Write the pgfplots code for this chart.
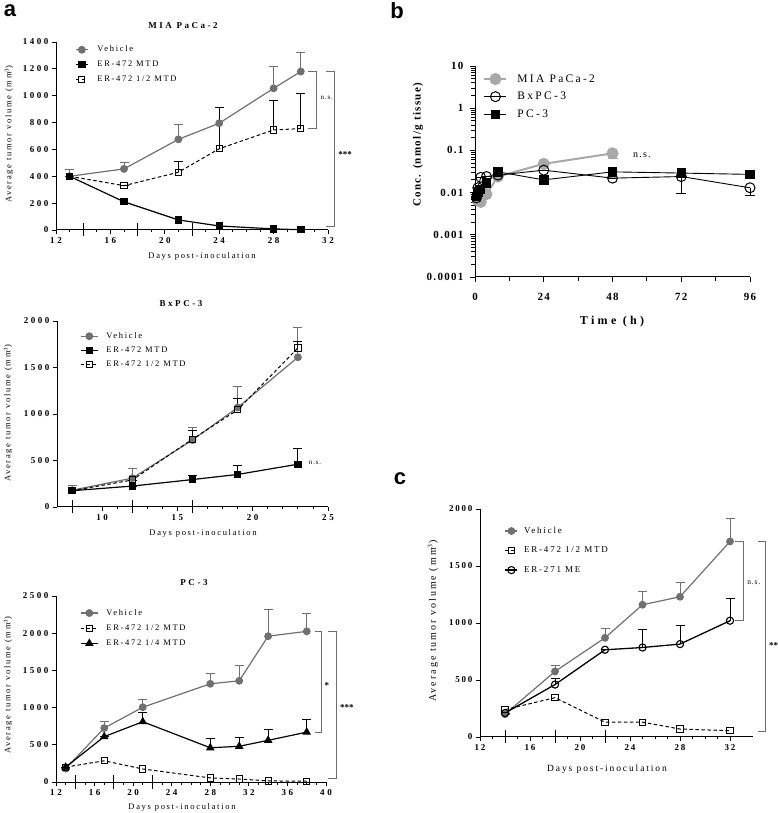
\documentclass[border=0pt]{standalone}
\usepackage{fontspec}
\setmainfont{Liberation Serif}
\newfontfamily\spf[LetterSpace=12]{Liberation Serif}
\newfontfamily\spm[LetterSpace=20]{Liberation Serif}
\newfontfamily\spw[LetterSpace=28]{Liberation Serif}
\newfontfamily\lettf{Liberation Sans}
\usepackage{pgfplots}
\pgfplotsset{compat=1.18}
\definecolor{vgray}{RGB}{112,112,112}
\definecolor{lgray}{RGB}{168,168,168}
\definecolor{bgray}{RGB}{110,110,110}
\tikzset{brk/.style={bgray, line width=0.8pt}}

\pgfplotsset{
 myaxis/.style={scale only axis, anchor=south west, clip=false,
   axis x line*=bottom, axis y line*=left, axis line style={-, line width=1pt},
   tick align=outside, major tick length=4pt, minor tick length=2.5pt,
   every tick/.style={black, line width=0.8pt},
   tick label style={font=\fontsize{9}{10}\selectfont\bfseries\spw},
   /pgf/number format/assume math mode=true, /pgf/number format/1000 sep={},
   legend style={draw=none, fill=none, font=\fontsize{8.5}{9}\selectfont\spm, inner sep=0pt, cells={anchor=west}},
   legend cell align=left,
   legend image code/.code={\draw[mark repeat=2,mark phase=2,##1] plot coordinates {(0pt,0pt) (6pt,0pt) (12pt,0pt)}; \path (19pt,0pt);},
   extra x tick style={major tick length=13pt, tick align=center},
   extra x tick labels={},
 },
 ebp/.style={error bars/.cd, y dir=plus, y explicit, error bar style={solid, line width=1pt, #1}, error mark options={rotate=90, solid, mark size=4.5pt, line width=1pt, #1}},
 veh/.style={vgray, line width=1.2pt, mark=*, mark size=3.3pt, mark options={fill=vgray, draw=vgray}},
 mtd/.style={black, line width=1.2pt, mark=square*, mark size=3.1pt, mark options={fill=black}},
 half/.style={black, line width=1pt, dash pattern=on 3.5pt off 2.5pt, mark=square, mark size=3.1pt, mark options={solid, fill=white, line width=0.9pt}},
 quart/.style={black, line width=1.2pt, mark=triangle*, mark size=3.8pt, mark options={fill=black}},
 me/.style={black, line width=1.3pt, mark=o, mark size=3.6pt, mark options={fill=white, line width=1.1pt}},
}

\begin{document}
\begin{tikzpicture}[x=1pt,y=1pt]
\path[use as bounding box] (0,0) rectangle (778,813);

% ---------- a: MIA PaCa-2 ----------
\begin{axis}[myaxis, at={(56pt,583pt)}, width=272pt, height=188pt,
  xmin=12, xmax=32, ymin=0, ymax=1400,
  xtick={12,16,...,32}, minor x tick num=3, ytick={0,200,...,1400},
  extra x ticks={14,18,22},
  legend style={at={(0.07,0.99)}, anchor=north west, row sep=3.5pt}]
\addplot[veh, ebp=vgray] table[x=x, y=y, y error plus=e, row sep=\\] {
x y e \\ 13 400 48 \\ 17 455 45 \\ 21 675 110 \\ 24 795 120 \\ 28 1055 165 \\ 30 1180 145 \\};
\addplot[mtd] table[x=x, y=y, row sep=\\] {
x y \\ 13 400 \\ 17 210 \\ 21 75 \\ 24 30 \\ 28 8 \\ 30 2 \\};
\addplot[half, ebp=black] table[x=x, y=y, y error plus=e, row sep=\\] {
x y e \\ 13 400 0 \\ 17 330 0 \\ 21 430 80 \\ 24 605 310 \\ 28 745 220 \\ 30 755 265 \\};
\legend{Vehicle, ER-472 MTD, ER-472 1/2 MTD}
\draw[brk] (axis cs:30.55,1180) -- (axis cs:31.17,1180) -- (axis cs:31.17,760) -- (axis cs:30.55,760);
\node[font=\fontsize{7}{8}\selectfont\spf, anchor=west] at (axis cs:31.2,980) {n.s.};
\draw[brk] (axis cs:31.85,1180) -- (axis cs:32.45,1180) -- (axis cs:32.45,27) -- (axis cs:31.85,27);
\node[font=\fontsize{9}{9}\selectfont\bfseries, anchor=west] at (axis cs:32.5,565) {***};
\end{axis}

% ---------- a: BxPC-3 ----------
\begin{axis}[myaxis, at={(57pt,306pt)}, width=271pt, height=186pt,
  xmin=7, xmax=25, ymin=0, ymax=2000,
  xtick={10,15,20,25}, minor x tick num=4, ytick={0,500,...,2000},
  extra x ticks={8,12,16},
  legend style={at={(0.085,0.95)}, anchor=north west, row sep=3pt},
  legend image code/.code={\draw[mark repeat=2,mark phase=2,#1] plot coordinates {(0pt,0pt) (8.5pt,0pt) (17pt,0pt)}; \path (23pt,0pt);}]
\addplot[veh, ebp=vgray] table[x=x, y=y, y error plus=e, row sep=\\] {
x y e \\ 8 180 50 \\ 12 310 100 \\ 16 720 135 \\ 19 1070 230 \\ 23 1610 320 \\};
\addplot[mtd, ebp=black] table[x=x, y=y, y error plus=e, row sep=\\] {
x y e \\ 8 175 0 \\ 12 225 0 \\ 16 295 45 \\ 19 350 95 \\ 23 460 165 \\};
\addplot[half, ebp=black] table[x=x, y=y, y error plus=e, row sep=\\] {
x y e \\ 8 175 0 \\ 12 290 0 \\ 16 730 90 \\ 19 1045 125 \\ 23 1710 70 \\};
\legend{Vehicle, ER-472 MTD, ER-472 1/2 MTD}
\node[font=\fontsize{7}{8}\selectfont\spf, anchor=west] at (axis cs:23.5,470) {n.s.};
\end{axis}

% ---------- a: PC-3 ----------
\begin{axis}[myaxis, at={(56pt,31pt)}, width=270pt, height=186pt,
  xmin=12, xmax=40, ymin=0, ymax=2500,
  xtick={12,16,...,40}, minor x tick num=3, ytick={0,500,...,2500},
  extra x ticks={14,18,22},
  legend style={at={(0.089,0.94)}, anchor=north west, row sep=4pt},
  legend image code/.code={\draw[mark repeat=2,mark phase=2,#1] plot coordinates {(0pt,0pt) (8.5pt,0pt) (17pt,0pt)}; \path (23pt,0pt);}]
\addplot[veh, ebp=vgray] table[x=x, y=y, y error plus=e, row sep=\\] {
x y e \\ 13 180 0 \\ 17 725 90 \\ 21 1005 100 \\ 28 1320 145 \\ 31 1360 200 \\ 34 1960 355 \\ 38 2025 235 \\};
\addplot[half] table[x=x, y=y, row sep=\\] {
x y \\ 13 200 \\ 17 285 \\ 21 175 \\ 28 55 \\ 31 40 \\ 34 15 \\ 38 10 \\};
\addplot[quart, ebp=black] table[x=x, y=y, y error plus=e, row sep=\\] {
x y e \\ 13 200 0 \\ 17 610 0 \\ 21 810 130 \\ 28 460 120 \\ 31 480 120 \\ 34 560 150 \\ 38 670 170 \\};
\legend{Vehicle, ER-472 1/2 MTD, ER-472 1/4 MTD}
\draw[brk] (axis cs:38.87,2025) -- (axis cs:39.56,2025) -- (axis cs:39.56,670) -- (axis cs:38.87,670);
\node[font=\fontsize{9}{9}\selectfont\bfseries] at (axis cs:40.1,1300) {*};
\draw[brk] (axis cs:40.25,2025) -- (axis cs:41.05,2025) -- (axis cs:41.05,54) -- (axis cs:40.25,54);
\node[font=\fontsize{9}{9}\selectfont\bfseries, anchor=west] at (axis cs:41.1,1000) {***};
\end{axis}

% ---------- b ----------
\begin{axis}[myaxis, at={(475pt,536pt)}, width=275pt, height=211pt,
  xmin=0, xmax=96, ymode=log, ymin=1e-4, ymax=10,
  xtick={0,24,48,72,96}, minor xtick={12,36,60,84},
  ytick={1e-4,1e-3,1e-2,1e-1,1,10}, yticklabels={0.0001,0.001,0.01,0.1,1,10},
  major tick length=5pt, minor tick length=4pt,
  tick label style={font=\fontsize{11}{12}\selectfont\bfseries\spf},
  xticklabel style={yshift=-8pt}, yticklabel style={xshift=-3pt},
  legend style={at={(0.03,0.97)}, anchor=north west, row sep=4.5pt, font=\fontsize{11.5}{13}\selectfont\spm},
  legend image code/.code={\draw[mark repeat=2,mark phase=2,#1] plot coordinates {(0pt,0pt) (11pt,0pt) (22pt,0pt)}; \path (30pt,0pt);}]
\addplot[lgray, line width=2pt, mark=*, mark size=5pt, mark options={fill=lgray, draw=lgray},
  error bars/.cd, y dir=minus, y explicit, error bar style={lgray, line width=1.2pt}, error mark options={rotate=90, lgray, mark size=5pt, line width=1.2pt}]
  table[x=x, y=y, y error minus=e, row sep=\\] {
x y e \\ 1 0.0065 0 \\ 2 0.006 0 \\ 4 0.0092 0 \\ 8 0.024 0 \\ 24 0.048 0 \\ 48 0.085 0.022 \\};
\addplot[black, line width=0.9pt, mark=o, mark size=5pt, mark options={fill=white, line width=1pt},
  error bars/.cd, y dir=minus, y explicit, error bar style={black, line width=1pt}, error mark options={rotate=90, black, mark size=5pt, line width=1pt}]
  table[x=x, y=y, y error minus=e, row sep=\\] {
x y e \\ 0.5 0.0075 0 \\ 1 0.013 0 \\ 2 0.023 0 \\ 4 0.024 0 \\ 8 0.026 0 \\ 24 0.034 0 \\ 48 0.022 0 \\ 72 0.024 0.0145 \\ 96 0.013 0.0045 \\};
\addplot[black, line width=0.9pt, mark=square*, mark size=4.2pt, mark options={fill=black}]
  table[x=x, y=y, row sep=\\] {
x y \\ 0.5 0.008 \\ 1 0.010 \\ 2 0.012 \\ 4 0.017 \\ 8 0.031 \\ 24 0.020 \\ 48 0.031 \\ 72 0.029 \\ 96 0.027 \\};
\legend{MIA PaCa-2, BxPC-3, PC-3}
\node[font=\fontsize{10}{11}\selectfont\spf, anchor=west] at (axis cs:54,0.075) {n.s.};
\end{axis}

% ---------- c ----------
\begin{axis}[myaxis, at={(480pt,76pt)}, width=273pt, height=228pt,
  xmin=12, xmax=33.84, ymin=0, ymax=2000,
  xtick={12,16,...,32}, minor x tick num=3, ytick={0,500,...,2000},
  extra x ticks={14,18,22},
  tick label style={font=\fontsize{9}{10}\selectfont\bfseries\spm},
  legend style={at={(0.09,0.93)}, anchor=north west, row sep=8pt, font=\fontsize{9}{10}\selectfont\spm},
  legend image code/.code={\draw[mark repeat=2,mark phase=2,#1] plot coordinates {(0pt,0pt) (6pt,0pt) (12pt,0pt)}; \path (16pt,0pt);}]
\addplot[veh, ebp=vgray] table[x=x, y=y, y error plus=e, row sep=\\] {
x y e \\ 14 200 0 \\ 18 575 50 \\ 22 870 80 \\ 25 1160 115 \\ 28 1230 125 \\ 32 1715 205 \\};
\addplot[half] table[x=x, y=y, row sep=\\] {
x y \\ 14 240 \\ 18 345 \\ 22 130 \\ 25 130 \\ 28 70 \\ 32 55 \\};
\addplot[me, ebp=black] table[x=x, y=y, y error plus=e, row sep=\\] {
x y e \\ 14 210 0 \\ 18 460 50 \\ 22 765 0 \\ 25 785 155 \\ 28 815 165 \\ 32 1020 195 \\};
\legend{Vehicle, ER-472 1/2 MTD, ER-271 ME}
\draw[brk] (axis cs:32.4,1715) -- (axis cs:33.07,1715) -- (axis cs:33.07,1020) -- (axis cs:32.4,1020);
\node[font=\fontsize{7.5}{8}\selectfont\spf, anchor=west] at (axis cs:33.1,1355) {n.s.};
\draw[brk] (axis cs:34.2,1715) -- (axis cs:34.8,1715) -- (axis cs:34.8,50) -- (axis cs:34.2,50);
\node[font=\fontsize{9}{9}\selectfont\bfseries, anchor=west] at (axis cs:34.85,800) {**};
\end{axis}

% ---------- titles and labels ----------
\node[font=\fontsize{9}{10}\selectfont\bfseries\spw] at (183,787) {MIA PaCa-2};
\node[font=\fontsize{9}{10}\selectfont\bfseries\spw] at (181,509) {BxPC-3};
\node[font=\fontsize{9}{10}\selectfont\bfseries\spw] at (194,230) {PC-3};

\node[font=\fontsize{8.5}{10}\selectfont\spm] at (202,557) {Days post-inoculation};
\node[font=\fontsize{8.5}{10}\selectfont\spm] at (203,280) {Days post-inoculation};
\node[font=\fontsize{8.5}{10}\selectfont\spm] at (182,6) {Days post-inoculation};
\node[font=\fontsize{9.5}{10}\selectfont\spm] at (607,44) {Days post-inoculation};
\node[font=\fontsize{12}{13}\selectfont\bfseries\spw] at (612,491) {Time (h)};

\node[rotate=90, font=\fontsize{8.5}{10}\selectfont\spm] at (9,679) {Average tumor volume (mm$^{3}$)};
\node[rotate=90, font=\fontsize{8.5}{10}\selectfont\spm] at (8,400) {Average tumor volume (mm$^{3}$)};
\node[rotate=90, font=\fontsize{8.5}{10}\selectfont\spm] at (8,128) {Average tumor volume (mm$^{3}$)};
\node[rotate=90, font=\fontsize{10}{11}\selectfont\spm] at (433,192) {Average tumor volume (mm$^{3}$)};
\node[rotate=90, font=\fontsize{11}{12}\selectfont\bfseries\spf] at (418,668) {Conc. (nmol/g tissue)};

\node[font=\fontsize{22}{22}\selectfont\bfseries\lettf] at (10,802) {a};
\node[font=\fontsize{22}{22}\selectfont\bfseries\lettf] at (397,802) {b};
\node[font=\fontsize{22}{22}\selectfont\bfseries\lettf] at (400,334) {c};
\end{tikzpicture}
\end{document}
